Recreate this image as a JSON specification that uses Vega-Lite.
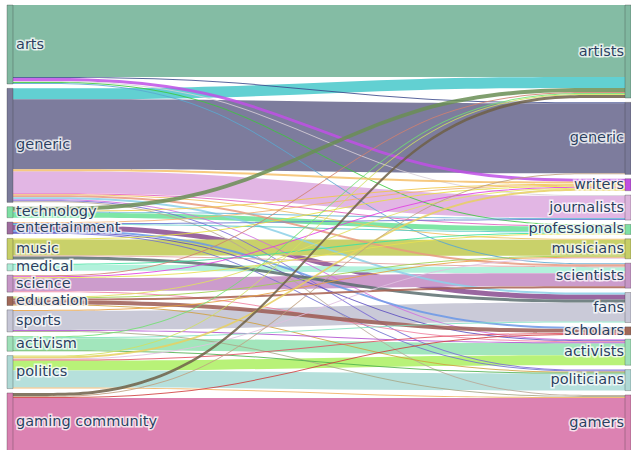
{
  "$schema": "https://vega.github.io/schema/vega-lite/v6.json",
  "width": 631,
  "height": 450,
  "padding": 0,
  "autosize": {"type": "none"},
  "background": "white",
  "config": {"view": {"stroke": null}},
  "datasets": {
    "links": [
      {"id": 1, "source": "arts", "target": "artists", "value": 72},
      {"id": 2, "source": "arts", "target": "generic", "value": 1},
      {"id": 3, "source": "arts", "target": "writers", "value": 3},
      {"id": 4, "source": "arts", "target": "journalists", "value": 1},
      {"id": 5, "source": "arts", "target": "professionals", "value": 1},
      {"id": 6, "source": "arts", "target": "scientists", "value": 1},
      {"id": 7, "source": "generic", "target": "artists", "value": 11},
      {"id": 8, "source": "generic", "target": "generic", "value": 70},
      {"id": 9, "source": "generic", "target": "writers", "value": 2},
      {"id": 10, "source": "generic", "target": "journalists", "value": 22},
      {"id": 11, "source": "generic", "target": "professionals", "value": 1},
      {"id": 12, "source": "generic", "target": "musicians", "value": 1},
      {"id": 13, "source": "generic", "target": "scientists", "value": 2},
      {"id": 14, "source": "generic", "target": "fans", "value": 2},
      {"id": 15, "source": "generic", "target": "activists", "value": 1},
      {"id": 16, "source": "generic", "target": "politicians", "value": 1},
      {"id": 17, "source": "generic", "target": "gamers", "value": 1},
      {"id": 18, "source": "technology", "target": "artists", "value": 4},
      {"id": 19, "source": "technology", "target": "writers", "value": 1},
      {"id": 20, "source": "technology", "target": "journalists", "value": 1},
      {"id": 21, "source": "technology", "target": "professionals", "value": 5},
      {"id": 22, "source": "entertainment", "target": "writers", "value": 1},
      {"id": 23, "source": "entertainment", "target": "journalists", "value": 1},
      {"id": 24, "source": "entertainment", "target": "professionals", "value": 1},
      {"id": 25, "source": "entertainment", "target": "scholars", "value": 2},
      {"id": 26, "source": "entertainment", "target": "fans", "value": 5},
      {"id": 27, "source": "entertainment", "target": "activists", "value": 1},
      {"id": 28, "source": "entertainment", "target": "politicians", "value": 1},
      {"id": 29, "source": "music", "target": "writers", "value": 1},
      {"id": 30, "source": "music", "target": "musicians", "value": 16},
      {"id": 31, "source": "music", "target": "scientists", "value": 1},
      {"id": 32, "source": "music", "target": "fans", "value": 3},
      {"id": 33, "source": "medical", "target": "professionals", "value": 1},
      {"id": 34, "source": "medical", "target": "scientists", "value": 6},
      {"id": 35, "source": "science", "target": "artists", "value": 1},
      {"id": 36, "source": "science", "target": "writers", "value": 1},
      {"id": 37, "source": "science", "target": "professionals", "value": 1},
      {"id": 38, "source": "science", "target": "scientists", "value": 13},
      {"id": 39, "source": "science", "target": "activists", "value": 1},
      {"id": 40, "source": "education", "target": "writers", "value": 1},
      {"id": 41, "source": "education", "target": "musicians", "value": 1},
      {"id": 42, "source": "education", "target": "scientists", "value": 2},
      {"id": 43, "source": "education", "target": "scholars", "value": 4},
      {"id": 44, "source": "education", "target": "politicians", "value": 1},
      {"id": 45, "source": "sports", "target": "musicians", "value": 1},
      {"id": 46, "source": "sports", "target": "fans", "value": 19},
      {"id": 47, "source": "sports", "target": "activists", "value": 1},
      {"id": 48, "source": "sports", "target": "gamers", "value": 1},
      {"id": 49, "source": "activism", "target": "artists", "value": 1},
      {"id": 50, "source": "activism", "target": "fans", "value": 1},
      {"id": 51, "source": "activism", "target": "activists", "value": 12},
      {"id": 63, "source": "activism", "target": "politicians", "value": 1},
      {"id": 52, "source": "politics", "target": "artists", "value": 1},
      {"id": 53, "source": "politics", "target": "writers", "value": 2},
      {"id": 64, "source": "politics", "target": "musicians", "value": 1},
      {"id": 54, "source": "politics", "target": "activists", "value": 10},
      {"id": 55, "source": "politics", "target": "scholars", "value": 1},
      {"id": 56, "source": "politics", "target": "politicians", "value": 17},
      {"id": 57, "source": "politics", "target": "gamers", "value": 1},
      {"id": 58, "source": "gaming community", "target": "artists", "value": 3},
      {"id": 59, "source": "gaming community", "target": "generic", "value": 1},
      {"id": 60, "source": "gaming community", "target": "scholars", "value": 1},
      {"id": 62, "source": "gaming community", "target": "gamers", "value": 53}
    ],
    "srcnodes": [
      {"source": "arts", "srank": 0},
      {"source": "generic", "srank": 1},
      {"source": "technology", "srank": 2},
      {"source": "entertainment", "srank": 3},
      {"source": "music", "srank": 4},
      {"source": "medical", "srank": 5},
      {"source": "science", "srank": 6},
      {"source": "education", "srank": 7},
      {"source": "sports", "srank": 8},
      {"source": "activism", "srank": 9},
      {"source": "politics", "srank": 10},
      {"source": "gaming community", "srank": 11}
    ],
    "tgtnodes": [
      {"target": "artists", "trank": 0},
      {"target": "generic", "trank": 1},
      {"target": "writers", "trank": 2},
      {"target": "journalists", "trank": 3},
      {"target": "professionals", "trank": 4},
      {"target": "musicians", "trank": 5},
      {"target": "scientists", "trank": 6},
      {"target": "fans", "trank": 7},
      {"target": "scholars", "trank": 8},
      {"target": "activists", "trank": 9},
      {"target": "politicians", "trank": 10},
      {"target": "gamers", "trank": 11}
    ]
  },
  "data": {"name": "links"},
  "transform": [
    {"lookup": "source", "from": {"data": {"name": "srcnodes"}, "key": "source", "fields": ["srank"]}},
    {"lookup": "target", "from": {"data": {"name": "tgtnodes"}, "key": "target", "fields": ["trank"]}},
    {"window": [{"op": "sum", "field": "value", "as": "scum"}], "sort": [{"field": "srank"}, {"field": "trank"}]},
    {"window": [{"op": "sum", "field": "value", "as": "tcum"}], "sort": [{"field": "trank"}, {"field": "srank"}]},
    {"calculate": "datum.scum + datum.srank * 4.36", "as": "ys1"},
    {"calculate": "datum.ys1 - datum.value", "as": "ys0"},
    {"calculate": "datum.tcum + datum.trank * 4.36", "as": "yt1"},
    {"calculate": "datum.yt1 - datum.value", "as": "yt0"}
  ],
  "layer": [
    {
      "transform": [
        {"fold": ["ys0", "ys1", "yt0", "yt1"], "as": ["k", "kv"]},
        {"calculate": "datum.k == 'ys0' ? 0.0206 : (datum.k == 'ys1' ? 0.3439 : (datum.k == 'yt0' ? 0.6672 : 0.9905))", "as": "px"},
        {"calculate": "(datum.k == 'ys0' || datum.k == 'ys1') ? datum.ys0 : datum.yt0", "as": "top"},
        {"calculate": "datum.top + datum.value", "as": "bot"}
      ],
      "encoding": {
        "x": {"field": "px", "type": "quantitative", "scale": {"domain": [0, 1], "nice": false, "zero": false}, "axis": null},
        "y": {"field": "top", "type": "quantitative", "scale": {"domain": [-5, 445], "reverse": true, "nice": false, "zero": false}, "axis": null},
        "y2": {"field": "bot"},
        "color": {
          "field": "id", "type": "nominal", "legend": null,
          "scale": {
            "domain": [1,2,3,4,5,6,7,8,9,10,11,12,13,14,15,16,17,18,19,20,21,22,23,24,25,26,27,28,29,30,31,32,33,34,35,36,37,38,39,40,41,42,43,44,45,46,47,48,49,50,51,52,53,54,55,56,57,58,59,60,61,62,63,64],
            "range": ["#84bca4","#3c4a8c","#c050e6","#d8d0d8","#3cc83c","#5aa8d0","#62d0d2","#7d7c9d","#f5c06a","#e2b6e4","#e060c0","#f0c060","#e89a80","#8cd0e8","#d070e0","#7a6ad6","#b8a898","#6a8e55","#f0c848","#62b4d4","#7ee6a6","#f2b070","#6878d0","#50c8c4","#6a98e8","#9a66a0","#5a4cc0","#7070d0","#e8e040","#c9d16a","#e0a0a0","#5c6e70","#40e0a0","#b2f2dc","#d08070","#e040e0","#e8e050","#cc9ccc","#f080a0","#e0e060","#a0d050","#a86050","#9c5c54","#d0a040","#e8a040","#cacad8","#b050d0","#a8a888","#70e070","#80e0c0","#a2e6bc","#d0e060","#e8d060","#b8f278","#e05060","#b6e0dc","#f0b060","#6e6048","#c0a080","#d04040","#50b050","#dc82b2","#50b050","#e0c0e0"]
          }
        }
      },
      "layer": [
        {"transform": [{"filter": "datum.value > 4"}], "mark": {"type": "area", "interpolate": "basis", "opacity": 1}, "encoding": {}},
        {"transform": [{"filter": "datum.value <= 4"}], "mark": {"type": "area", "interpolate": "basis", "opacity": 0.85}, "encoding": {}}
      ]
    },
    {
      "transform": [
        {"aggregate": [{"op": "min", "field": "ys0", "as": "n0"}, {"op": "max", "field": "ys1", "as": "n1"}], "groupby": ["source"]},
        {"calculate": "(datum.n0 + datum.n1) / 2", "as": "nm"}
      ],
      "layer": [
        {
          "mark": {"type": "rect", "stroke": "#333", "strokeWidth": 0.6, "strokeOpacity": 0.5},
          "encoding": {
            "x": {"datum": 0.0111, "type": "quantitative"},
            "x2": {"datum": 0.0206},
            "y": {"field": "n0", "type": "quantitative", "scale": {"domain": [-5, 445], "reverse": true, "nice": false, "zero": false}, "axis": null},
            "y2": {"field": "n1"},
            "fill": {
              "field": "source", "type": "nominal", "legend": null,
              "scale": {
                "domain": ["arts","generic","technology","entertainment","music","medical","science","education","sports","activism","politics","gaming community","artists","writers","journalists","professionals","musicians","scientists","fans","scholars","activists","politicians","gamers"],
                "range": ["#80b8a0","#7a7a9a","#7ee0a4","#9e6c9e","#c6ce66","#acecd6","#c696c6","#a06858","#c6c6d6","#9ee0b8","#aed8d4","#d880b0","#80b8a0","#c050e0","#dcb4dc","#7ee0a4","#c6ce66","#c696c6","#c6c6d6","#a06858","#9ee0b8","#aed8d4","#d880b0"]
              }
            }
          }
        },
        {
          "mark": {"type": "text", "align": "left", "baseline": "middle", "font": "DejaVu Sans", "fontSize": 14.5, "fill": "white", "stroke": "white", "strokeWidth": 3, "strokeOpacity": 0.75},
          "encoding": {"x": {"datum": 0.0254, "type": "quantitative"}, "y": {"field": "nm", "type": "quantitative"}, "text": {"field": "source"}}
        },
        {
          "mark": {"type": "text", "align": "left", "baseline": "middle", "font": "DejaVu Sans", "fontSize": 14.5, "color": "#2a3f5f"},
          "encoding": {"x": {"datum": 0.0254, "type": "quantitative"}, "y": {"field": "nm", "type": "quantitative"}, "text": {"field": "source"}}
        }
      ]
    },
    {
      "transform": [
        {"aggregate": [{"op": "min", "field": "yt0", "as": "m0"}, {"op": "max", "field": "yt1", "as": "m1"}], "groupby": ["target"]},
        {"calculate": "(datum.m0 + datum.m1) / 2", "as": "mm"}
      ],
      "layer": [
        {
          "mark": {"type": "rect", "stroke": "#333", "strokeWidth": 0.6, "strokeOpacity": 0.5},
          "encoding": {
            "x": {"datum": 0.9905, "type": "quantitative"},
            "x2": {"datum": 1.0},
            "y": {"field": "m0", "type": "quantitative", "scale": {"domain": [-5, 445], "reverse": true, "nice": false, "zero": false}, "axis": null},
            "y2": {"field": "m1"},
            "fill": {
              "field": "target", "type": "nominal", "legend": null,
              "scale": {
                "domain": ["arts","generic","technology","entertainment","music","medical","science","education","sports","activism","politics","gaming community","artists","writers","journalists","professionals","musicians","scientists","fans","scholars","activists","politicians","gamers"],
                "range": ["#80b8a0","#7a7a9a","#7ee0a4","#9e6c9e","#c6ce66","#acecd6","#c696c6","#a06858","#c6c6d6","#9ee0b8","#aed8d4","#d880b0","#80b8a0","#c050e0","#dcb4dc","#7ee0a4","#c6ce66","#c696c6","#c6c6d6","#a06858","#9ee0b8","#aed8d4","#d880b0"]
              }
            }
          }
        },
        {
          "mark": {"type": "text", "align": "right", "baseline": "middle", "font": "DejaVu Sans", "fontSize": 14.5, "fill": "white", "stroke": "white", "strokeWidth": 3, "strokeOpacity": 0.75},
          "encoding": {"x": {"datum": 0.9889, "type": "quantitative"}, "y": {"field": "mm", "type": "quantitative"}, "text": {"field": "target"}}
        },
        {
          "mark": {"type": "text", "align": "right", "baseline": "middle", "font": "DejaVu Sans", "fontSize": 14.5, "color": "#2a3f5f"},
          "encoding": {"x": {"datum": 0.9889, "type": "quantitative"}, "y": {"field": "mm", "type": "quantitative"}, "text": {"field": "target"}}
        }
      ]
    }
  ]
}
